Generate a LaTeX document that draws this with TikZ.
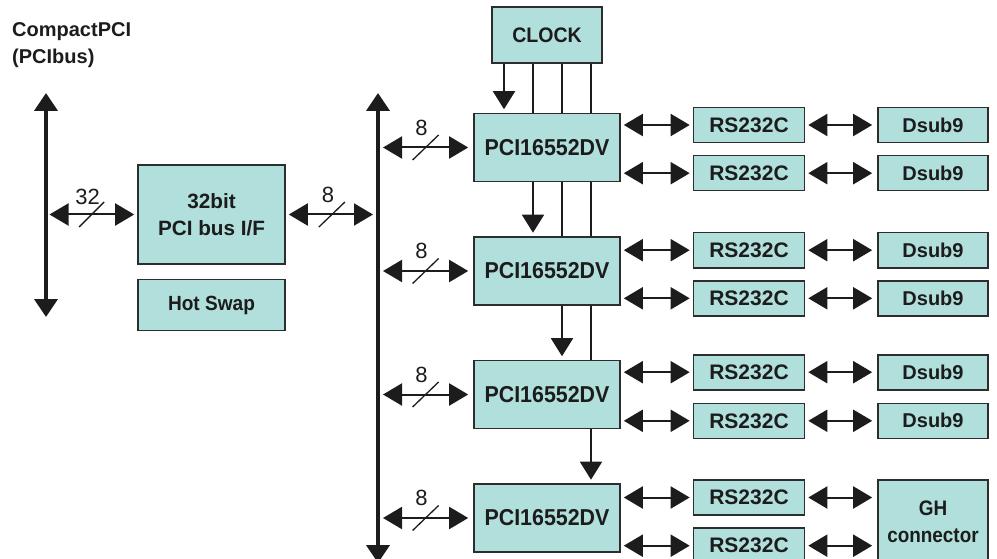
\documentclass[tikz,border=0pt]{standalone}
\usepackage{fontspec}
\setmainfont{Liberation Sans}
\newfontfamily\boxfont{Liberation Sans}[FakeStretch=0.93]
\newfontfamily\boxfontn{Liberation Sans}[FakeStretch=0.9]
\usetikzlibrary{arrows.meta,calc}
\definecolor{boxfill}{RGB}{176,223,220}
\definecolor{ink}{RGB}{28,28,28}
\definecolor{edge}{RGB}{45,45,45}
\begin{document}
\begin{tikzpicture}[x=1pt,y=-1pt,
 blk/.style={draw=edge, line width=1.6pt, fill=boxfill, inner sep=0pt, text=ink, align=center},
 pci/.style={blk, minimum width=146pt, minimum height=68pt, font=\boxfont\bfseries\fontsize{23}{27}\selectfont},
 rsb/.style={blk, minimum width=111pt, minimum height=35pt, font=\bfseries\fontsize{21}{25}\selectfont},
 dsb/.style={blk, minimum width=110pt, minimum height=35pt, font=\bfseries\fontsize{20}{24}\selectfont},
 bus/.style={line width=4pt, draw=ink, {Triangle[length=18pt,width=23pt]}-{Triangle[length=18pt,width=23pt]}},
 dbl/.style={line width=2pt, draw=ink, {Triangle[length=19pt,width=22pt]}-{Triangle[length=19pt,width=22pt]}},
 clk/.style={line width=1.8pt, draw=ink},
 clka/.style={clk, -{Triangle[length=18pt,width=22pt]}, shorten >=3.5pt},
 slash/.style={line width=1.3pt, draw=ink},
 wlab/.style={font=\fontsize{22}{22}\selectfont, text=ink, inner sep=0pt},
]
\useasboundingbox (0,0) rectangle (997,559);

% title
\node[anchor=north west, inner sep=0pt, align=left, text=ink,
      font=\bfseries\fontsize{20}{27}\selectfont] (title) at (12,22) {CompactPCI\\(PCIbus)};

% buses
\coordinate (lT) at (46,93);
\coordinate (lB) at (46,317);
\coordinate (rT) at (378,93);
\coordinate (rB) at (378,563);
\draw[bus] (lT) -- (lB);
\draw[bus] (rT) -- (rB);

% clock-line x positions
\coordinate (xa) at (504,0);
\coordinate (xb) at (533,0);
\coordinate (xc) at (562,0);
\coordinate (xd) at (591,0);

% blocks
\node[blk, minimum width=110pt, minimum height=56pt, font=\boxfont\bfseries\fontsize{21}{25}\selectfont] (clock) at (547,35) {CLOCK};
\node[pci] (p1) at (547,147.5) {PCI16552DV};
\node[pci] (p2) at (547,271) {PCI16552DV};
\node[pci] (p3) at (547,394.5) {PCI16552DV};
\node[pci] (p4) at (547,518) {PCI16552DV};

\node[blk, minimum width=147pt, minimum height=99pt, font=\bfseries\fontsize{20.7}{26.5}\selectfont] (pcif) at (211.5,214.5) {32bit\\PCI bus I/F};
\node[blk, minimum width=147pt, minimum height=51pt, font=\boxfont\bfseries\fontsize{20.5}{24}\selectfont] (hot) at (211.5,305) {Hot Swap};

\node[rsb] (rs1) at (749,125) {RS232C};
\node[rsb] (rs2) at (749,173.2) {RS232C};
\node[rsb] (rs3) at (749,250.2) {RS232C};
\node[rsb] (rs4) at (749,298.3) {RS232C};
\node[rsb] (rs5) at (749,372.2) {RS232C};
\node[rsb] (rs6) at (749,420.8) {RS232C};
\node[rsb] (rs7) at (749,497.5) {RS232C};
\node[rsb] (rs8) at (749,545.7) {RS232C};

\node[dsb] (ds1) at (933,125) {Dsub9};
\node[dsb] (ds2) at (933,173.2) {Dsub9};
\node[dsb] (ds3) at (933,250.2) {Dsub9};
\node[dsb] (ds4) at (933,298.3) {Dsub9};
\node[dsb] (ds5) at (933,372.2) {Dsub9};
\node[dsb] (ds6) at (933,420.8) {Dsub9};
\node[blk, minimum width=110pt, minimum height=83pt, font=\boxfontn\bfseries\fontsize{21}{27}\selectfont] (gh) at (933,521.5) {GH\\connector};

% clock lines
\draw[clka] (clock.south -| xa) -- (p1.north -| xa);
\foreach \c in {xb,xc,xd} \draw[clk] (clock.south -| \c) -- (p1.north -| \c);
\draw[clka] (p1.south -| xb) -- (p2.north -| xb);
\foreach \c in {xc,xd} \draw[clk] (p1.south -| \c) -- (p2.north -| \c);
\draw[clka] (p2.south -| xc) -- (p3.north -| xc);
\draw[clk] (p2.south -| xd) -- (p3.north -| xd);
\draw[clka] (p3.south -| xd) -- (p4.north -| xd);

% bus width arrows
\draw[dbl, shorten <=3.5pt, shorten >=3pt] (pcif.west -| lT) -- (pcif.west) coordinate[midway] (m0);
\draw[slash] ($(m0)+(-12.5,12.5)$) -- ($(m0)+(12.5,-12.5)$);
\node[wlab] (l0) at ($(m0)+(-4,-18)$) {32};

\draw[dbl, shorten <=3pt, shorten >=5pt] (pcif.east) -- (pcif.east -| rT) coordinate[midway] (mm);
\draw[slash] ($(mm)+(-13,12.5)$) -- ($(mm)+(13,-12.5)$);
\node[wlab] (lm) at ($(mm)+(-4,-20)$) {8};

\foreach \p in {p1,p2,p3,p4}{
  \draw[dbl, shorten <=5pt, shorten >=5pt] (\p.west -| rT) -- (\p.west) coordinate[midway] (m\p);
  \draw[slash] ($(m\p)+(-13,12.5)$) -- ($(m\p)+(13,-12.5)$);
  \node[wlab] (l\p) at ($(m\p)+(-4,-20)$) {8};
}

% uart to rs232c
\foreach \p/\a/\b in {p1/rs1/rs2, p2/rs3/rs4, p3/rs5/rs6, p4/rs7/rs8}{
  \draw[dbl, shorten <=3pt, shorten >=3pt] (\p.east |- \a.west) -- (\a.west);
  \draw[dbl, shorten <=3pt, shorten >=3pt] (\p.east |- \b.west) -- (\b.west);
}
% rs232c to connectors
\foreach \r/\d in {rs1/ds1, rs2/ds2, rs3/ds3, rs4/ds4, rs5/ds5, rs6/ds6}{
  \draw[dbl, shorten <=3pt, shorten >=5pt] (\r.east) -- (\d.west);
}
\draw[dbl, shorten <=3pt, shorten >=5pt] (rs7.east) -- (rs7.east -| gh.west);
\draw[dbl, shorten <=3pt, shorten >=5pt] (rs8.east) -- (rs8.east -| gh.west);
\end{tikzpicture}
\end{document}
